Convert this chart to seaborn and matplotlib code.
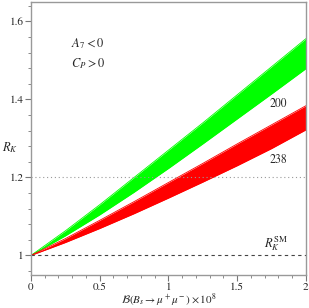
import numpy as np
import pandas as pd
import matplotlib
matplotlib.use("Agg")
import matplotlib.pyplot as plt
import seaborn as sns

# branching ratio B(Bs -> mu mu) x 10^8
bmumu = [0.0, 0.25, 0.5, 0.75, 1.0, 1.25, 1.5, 1.75, 2.0]

# R_K band edges
green_upper = [1.0, 1.063, 1.130, 1.200, 1.270, 1.340, 1.412, 1.484, 1.556]
green_lower = [1.0, 1.050, 1.104, 1.162, 1.223, 1.286, 1.350, 1.414, 1.479]
red_upper = [1.0, 1.043, 1.090, 1.138, 1.187, 1.236, 1.286, 1.335, 1.384]
red_lower = [1.0, 1.033, 1.069, 1.107, 1.147, 1.188, 1.230, 1.274, 1.322]

band_labels = ["200", "238"]
rk_sm = 1.0
rk_ref = 1.2

sns.set_theme(style="white")
plt.rcParams['font.family'] = ['STIXGeneral', 'DejaVu Serif']
plt.rcParams['mathtext.fontset'] = 'stix'

fig = plt.figure(figsize=(3.09, 3.08), dpi=100)
ax = fig.add_axes([0.1003, 0.1075, 0.8897, 0.886])

df = pd.DataFrame({'x': bmumu, 'gu': green_upper, 'gl': green_lower,
                   'ru': red_upper, 'rl': red_lower})

ax.fill_between(df['x'], df['gl'], df['gu'], color='#00ff00', lw=0)
ax.fill_between(df['x'], df['rl'], df['ru'], color='#ff0000', lw=0)
for col, c in [('gu', '#00ff00'), ('gl', '#00ff00'), ('ru', '#ff0000'), ('rl', '#ff0000')]:
    sns.lineplot(data=df, x='x', y=col, ax=ax, color=c, lw=0.6)

ax.axhline(rk_sm, color='#444444', lw=0.8, ls=(0, (3, 3)))
ax.axhline(rk_ref, color='#999999', lw=0.8, ls=(0, (1, 2.5)))

ax.set_xlim(0, 2)
ax.set_ylim(0.95, 1.65)
ax.set_xticks([0, 0.5, 1, 1.5, 2])
ax.set_xticklabels(['0', '0.5', '1', '1.5', '2'])
ax.set_yticks([1.0, 1.2, 1.4, 1.6])
ax.set_yticklabels(['1', '1.2', '1.4', '1.6'])
ax.set_xticks(np.arange(0, 2.01, 0.1), minor=True)
ax.set_yticks(np.arange(0.96, 1.65, 0.04), minor=True)
ax.tick_params(which='major', direction='out', length=4, width=0.8,
               color='#777777', labelsize=8, pad=1.5, bottom=True, left=True)
ax.tick_params(which='minor', direction='out', length=2, width=0.6,
               color='#777777', bottom=True, left=True)
for s in ax.spines.values():
    s.set_color('#999999')
    s.set_linewidth(1.0)

ax.set_xlabel(r'$\mathcal{B}(B_s \to \mu^+\mu^-) \times 10^8$', fontsize=8)
ax.xaxis.set_label_coords(0.5, -0.061)
ax.set_ylabel(r'$R_K$', fontsize=9, rotation=0)
ax.yaxis.set_label_coords(-0.075, 0.44)

ax.text(0.415, 1.544, r'$A_7 < 0$', fontsize=9, ha='center', va='center')
ax.text(0.415, 1.492, r'$C_P > 0$', fontsize=9, ha='center', va='center')
ax.text(1.80, 1.387, band_labels[0], fontsize=8.5, ha='center', va='center')
ax.text(1.80, 1.245, band_labels[1], fontsize=8.5, ha='center', va='center')
ax.text(1.78, 1.03, r'$R_K^{\rm SM}$', fontsize=9, ha='center', va='center')

fig.savefig('out.png', dpi=100)
